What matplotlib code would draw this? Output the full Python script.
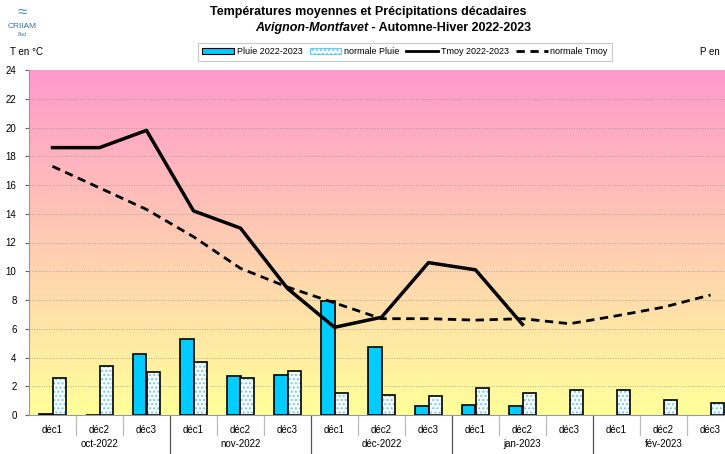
import numpy as np
import matplotlib
matplotlib.use("Agg")
import matplotlib.pyplot as plt
from matplotlib.colors import LinearSegmentedColormap
from matplotlib.patches import Patch
from matplotlib.lines import Line2D

plt.rcParams['font.family'] = ['Liberation Sans', 'DejaVu Sans']

decades = ["déc1", "déc2", "déc3"] * 5
months = ["oct-2022", "nov-2022", "déc-2022", "jan-2023", "fév-2023"]

tmoy = [18.6, 18.6, 19.8, 14.2, 13.0, 8.8, 6.1, 6.8, 10.6, 10.1, 6.3]
tmoy_norm = [17.3, 15.8, 14.3, 12.4, 10.2, 8.9, 7.8, 6.7, 6.7, 6.6, 6.7, 6.35, 6.9, 7.5, 8.35]
pluie = [0.1, 0.03, 4.25, 5.3, 2.7, 2.8, 7.9, 4.7, 0.6, 0.68, 0.6, np.nan, np.nan, np.nan, np.nan]
pluie_norm = [2.55, 3.43, 3.0, 3.7, 2.6, 3.05, 1.55, 1.4, 1.35, 1.9, 1.55, 1.75, 1.75, 1.05, 0.85]

fig = plt.figure(figsize=(7.25, 4.54), dpi=100)
ax = fig.add_axes([29 / 725, 39 / 454, 705 / 725, 345 / 454])

x = np.arange(len(decades))
ax.set_xlim(-0.5, len(decades) - 0.5)
ax.set_ylim(0, 24)

# fond degrade rose -> jaune
cmap = LinearSegmentedColormap.from_list("fond", ["#FFFF99", "#FF99CC"])
grad = np.linspace(0, 1, 256).reshape(-1, 1)
ax.imshow(grad, cmap=cmap, origin="lower", aspect="auto",
          extent=[-0.5, len(decades) - 0.5, 0, 24], zorder=0)

for v in range(2, 24, 2):
    ax.axhline(v, color="#999999", lw=0.5, ls=(0, (1.5, 2)), zorder=1)

w = 0.28
ax.bar(x - w / 2, pluie, width=w, color="#00CCFF", edgecolor="black", lw=1.2, zorder=2)
ax.bar(x + w / 2, pluie_norm, width=w, color="white", edgecolor="#66CCFF", hatch="....",
       lw=0, zorder=2)
ax.bar(x + w / 2, pluie_norm, width=w, color="none", edgecolor="black", lw=1.2, zorder=2)

ax.plot(x[:len(tmoy)], tmoy, color="black", lw=2.5, zorder=3)
ax.plot(x, tmoy_norm, color="black", lw=2, ls=(0, (3, 2)), zorder=3)

for s in ["top", "right"]:
    ax.spines[s].set_visible(False)
ax.spines["left"].set_color("#999999")
ax.spines["bottom"].set_color("#999999")

ax.set_yticks(range(0, 25, 2))
ax.tick_params(axis="y", labelsize=7, length=3, color="#666666", pad=6)
ax.set_xticks(x)
ax.set_xticklabels(decades, fontsize=7)
ax.tick_params(axis="x", length=0, pad=7)

# separateurs sous l'axe
tr = ax.get_xaxis_transform()
for i in range(1, len(decades)):
    if i % 3 == 0:
        ax.plot([i - 0.5, i - 0.5], [0, -39 / 345], transform=tr, color="#555555",
                lw=0.9, clip_on=False)
    else:
        ax.plot([i - 0.5, i - 0.5], [0, -20 / 345], transform=tr, color="#BBBBBB",
                lw=0.9, clip_on=False)
for j, m in enumerate(months):
    ax.text(3 * j + 1, -29 / 345, m, transform=tr, ha="center", va="center", fontsize=7)

# titres
fig.text(368 / 725, 1 - 12 / 454, "Températures moyennes et Précipitations décadaires",
         ha="center", va="center", fontsize=9, fontweight="bold")
fig.text(368 / 725, 1 - 28 / 454, "Avignon-Montfavet", ha="right", va="center",
         fontsize=9, fontweight="bold", style="italic")
fig.text(368 / 725, 1 - 28 / 454, " - Automne-Hiver 2022-2023", ha="left", va="center",
         fontsize=9, fontweight="bold")

fig.text(22 / 725, 1 - 12 / 454, "≈", ha="center", va="center", fontsize=12,
         color="#4A90C8")
fig.text(22 / 725, 1 - 27 / 454, "CRIIAM", ha="center", va="center", fontsize=6,
         color="#3A6EA5")
fig.text(22 / 725, 1 - 34 / 454, "Sud", ha="center", va="center", fontsize=3.5,
         color="#3A6EA5")
fig.text(10 / 725, 1 - 52 / 454, "T en °C", ha="left", va="center", fontsize=7)
fig.text(700 / 725, 1 - 52 / 454, "P en", ha="left", va="center", fontsize=7)

handles = [
    Patch(facecolor="#00CCFF", edgecolor="black", lw=0.8),
    Patch(facecolor="white", edgecolor="#66CCFF", hatch="....", lw=0.8),
    Line2D([], [], color="black", lw=2),
    Line2D([], [], color="black", lw=2, ls=(0, (3, 2))),
]
labels = ["Pluie 2022-2023", "normale Pluie", "Tmoy 2022-2023", "normale Tmoy"]
leg = fig.legend(handles, labels, loc="center", bbox_to_anchor=(405 / 725, 1 - 52 / 454),
                 ncol=4, fontsize=6.5, frameon=True, fancybox=False, handlelength=3.5,
                 handleheight=0.6, columnspacing=0.8, handletextpad=0.3,
                 borderpad=0.5, edgecolor="#BBBBBB")
leg.get_frame().set_linewidth(0.8)

fig.savefig("out.png", dpi=100)
